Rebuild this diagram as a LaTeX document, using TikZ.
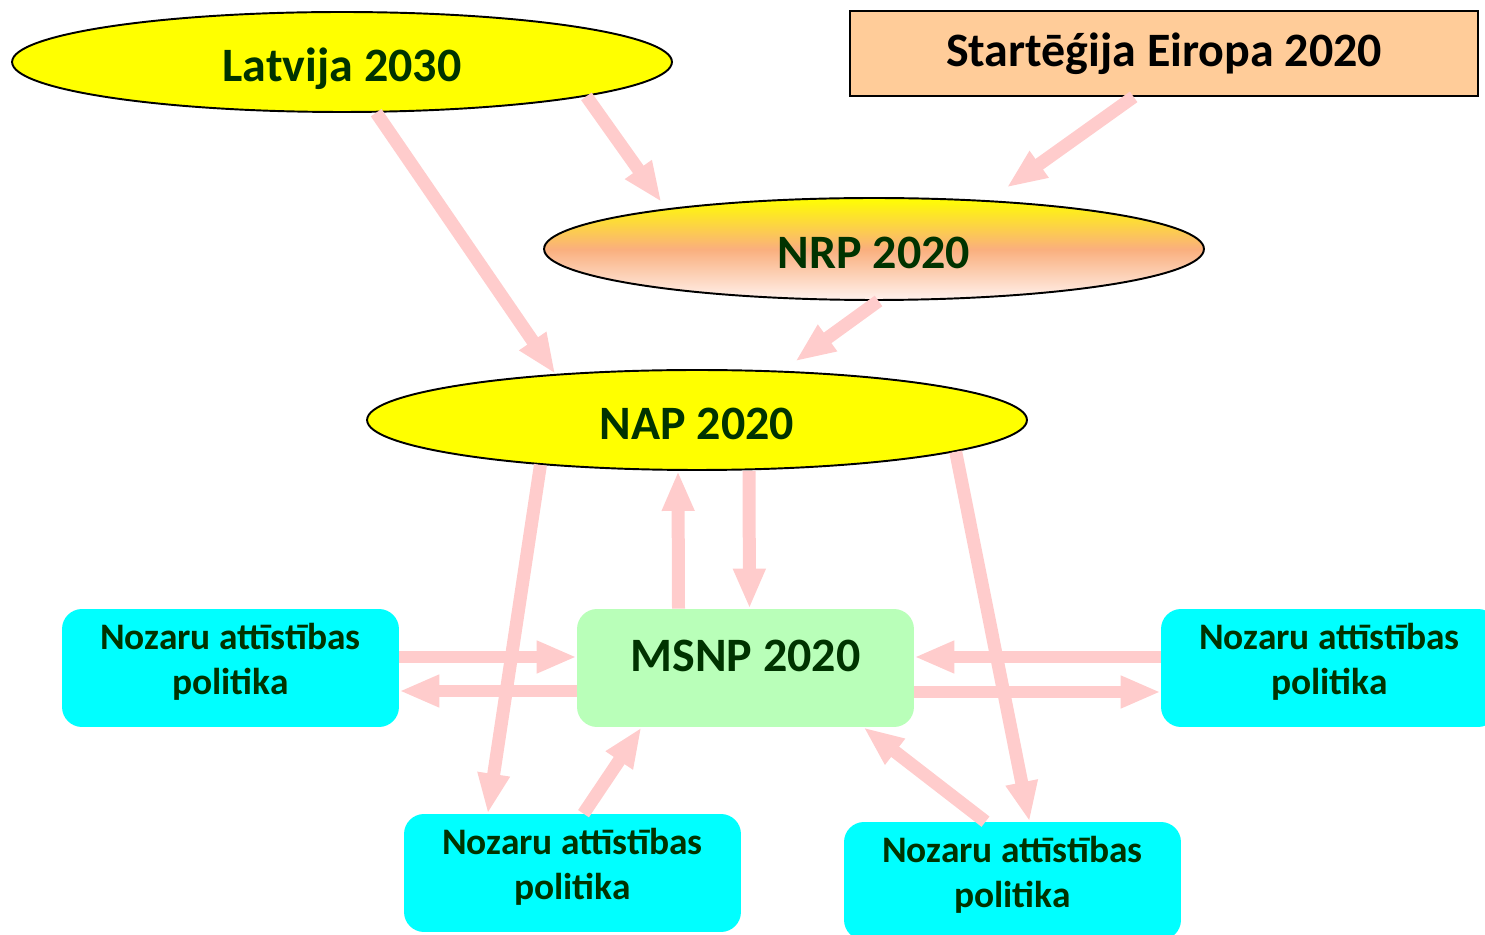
\documentclass[tikz,border=0pt]{standalone}
\usepackage{fontspec}
\setmainfont{Carlito}
\usetikzlibrary{arrows.meta,calc,shapes.geometric}
\definecolor{txtgreen}{RGB}{0,51,0}
\definecolor{flowpink}{RGB}{255,204,204}
\definecolor{peach}{RGB}{255,204,153}
\definecolor{ovalyellow}{RGB}{255,255,0}
\definecolor{boxcyan}{RGB}{0,255,255}
\definecolor{msnpgreen}{RGB}{185,255,185}
\definecolor{nrpmid}{RGB}{250,175,125}
\definecolor{nrpbot}{RGB}{255,242,238}

\begin{document}
\begin{tikzpicture}[x=0.02cm,y=-0.02cm,
  every node/.style={text=txtgreen,font=\fontsize{27.3}{32}\selectfont\bfseries},
  oval/.style={ellipse,draw,line width=1.1pt,minimum width=13.2cm,minimum height=2cm,text height=27pt,text depth=5pt},
  roundbox/.style={rounded corners=0.4cm,minimum width=6.74cm,minimum height=2.36cm},
  nozaru/.style={roundbox,fill=boxcyan,align=center,font=\fontsize{21.3}{25.5}\selectfont\bfseries,text depth=10.5pt},
  flow/.style={draw=flowpink,line width=0.26cm,-{Triangle[length=0.8cm,width=0.6cm]}}]
  \clip (0,0) rectangle (1485,935);
  %top
  \node[oval,fill=ovalyellow] (lat) at (342,62) {Latvija 2030};
  \node[draw,line width=1pt,fill=peach,text=black,minimum width=12.56cm,minimum height=1.7cm] (strat) at (1164,53.5) {Start\={e}\'{g}ija Eiropa 2020};
  \node[oval,minimum height=2.04cm,top color=ovalyellow,bottom color=nrpbot,middle color=nrpmid] (nrp) at (874,249) {NRP 2020};
  %middle
  \node[oval,fill=ovalyellow] (nap) at (697,420) {NAP 2020};
  \node[roundbox,fill=msnpgreen,text depth=13.7pt] (msnp) at (745.5,668) {MSNP 2020};
  \node[nozaru] (nozl) at (230.5,668) {Nozaru att\={\i}st\={\i}bas\\politika};
  \node[nozaru] (nozr) at (1329.5,668) {Nozaru att\={\i}st\={\i}bas\\politika};
  %bottom
  \node[nozaru] (nozbl) at (572.5,873) {Nozaru att\={\i}st\={\i}bas\\politika};
  \node[nozaru] (nozbr) at (1012.5,881) {Nozaru att\={\i}st\={\i}bas\\politika};

  %arrows
  \draw[flow] (lat.-56) -- (nap.162);
  \draw[flow,shorten >=0.16cm] (lat.-8) -- (nrp.169);
  \draw[flow,shorten >=0.44cm] (strat.-125) -- (nrp.23);
  \draw[flow,shorten >=0.32cm] (nrp.-85) -- (nap.30);
  \draw[flow] (nap.196) -- (nozbl.145);
  \draw[flow] (nap.-7) -- (nozbr.74);
  \draw[flow] ($(msnp.north)+(-67,0)$) -- ($(nap.south)+(-19,0)$);
  \draw[flow] ($(nap.south)+(52,0)$) -- ($(msnp.north)+(4,0)$);
  \draw[flow] ($(nozl.east)+(0,-11)$) -- ($(msnp.west)+(0,-11)$);
  \draw[flow] ($(msnp.west)+(0,23)$) -- ($(nozl.east)+(0,23)$);
  \draw[flow] ($(nozr.west)+(0,-11)$) -- ($(msnp.east)+(0,-11)$);
  \draw[flow] ($(msnp.east)+(0,24)$) -- ($(nozr.west)+(0,24)$);
  \draw[flow] ($(nozbl.north)+(11,0)$) -- ($(msnp.south)+(-104,0)$);
  \draw[flow] ($(nozbr.north)+(-27,0)$) -- ($(msnp.south)+(118,0)$);
\end{tikzpicture}
\end{document}
